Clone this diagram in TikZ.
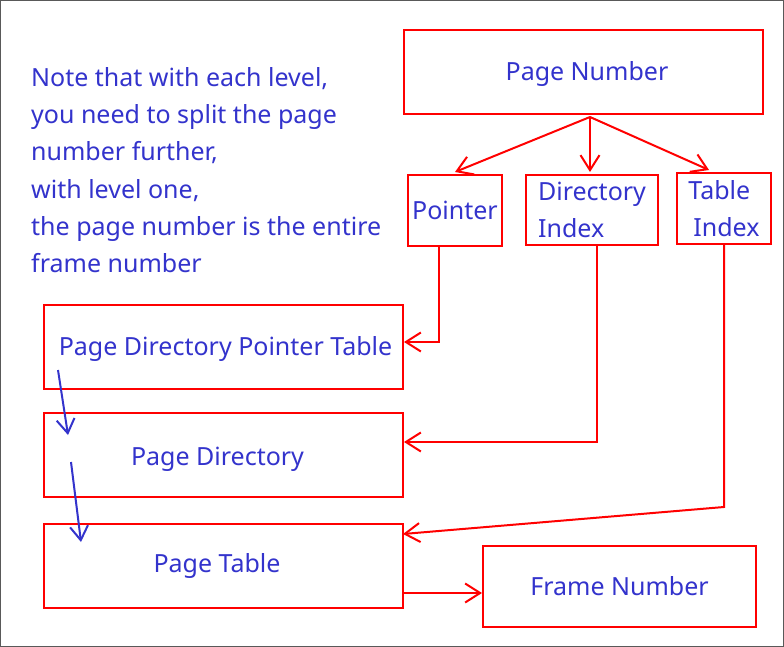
\documentclass[tikz,border=0pt]{standalone}
\usepackage{fontspec}
\setmainfont{Noto Sans}
\usetikzlibrary{arrows.meta,calc}
\definecolor{txtblue}{RGB}{51,51,204}
\definecolor{boxred}{RGB}{255,0,0}
\newcommand{\lowerby}[2]{\raisebox{-#1}[\height][\depth]{#2}}
\begin{document}
\begin{tikzpicture}[x=1pt,y=-1pt,
  box/.style={draw=boxred,line width=2pt,rectangle,inner sep=0pt,text=txtblue,
    font=\fontsize{25}{37}\selectfont},
  redarrow/.style={draw=boxred,line width=2pt,-{Straight Barb[length=15pt,width=19pt,line width=2pt]}},
  bluearrow/.style={draw=txtblue,line width=2pt,-{Straight Barb[length=14pt,width=18pt,line width=2pt]}},
  note/.style={text=txtblue,align=left,inner sep=0pt,font=\fontsize{25}{37.3}\selectfont}]
\useasboundingbox (0,0) rectangle (784,647);
\draw[draw=black!65,line width=1pt] (0.5,0.5) rectangle (783.5,646.5);

\node[note,anchor=north west] (note) at (31,67) {Note that with each level,\\you need to split the page\\number further,\\with level one,\\the page number is the entire\\frame number};

\node[box,minimum width=359pt,minimum height=84pt] (pn) at (583.5,72) {\hspace*{7pt}\lowerby{2pt}{Page Number}};
\node[box,minimum width=94pt,minimum height=71pt] (ptr) at (455,210.5) {Pointer};
\node[box,minimum width=132pt,minimum height=70pt,align=left] (dir) at (592,210) {Directory\\Index};
\node[box,minimum width=94pt,minimum height=71pt,align=left] (tbl) at (724,208.5) {Table\\\hspace*{5pt}Index};
\node[box,minimum width=359pt,minimum height=84pt] (pdpt) at (223.5,347) {\hspace*{4pt}\lowerby{2pt}{Page Directory Pointer Table}};
\node[box,minimum width=359pt,minimum height=84pt] (pd) at (223.5,455) {\hspace*{-12pt}\lowerby{4pt}{Page Directory}};
\node[box,minimum width=359pt,minimum height=84pt] (pt) at (223.5,566) {\hspace*{-13pt}Page Table};
\node[box,minimum width=273pt,minimum height=81pt] (fn) at (619.5,586.5) {Frame Number};

\coordinate (split) at (590,117);
\draw[redarrow] (split) -- ([yshift=2pt]ptr.north);
\draw[redarrow] (split) -- ([xshift=-2pt,yshift=2pt]dir.north);
\draw[redarrow] (split) -- ([xshift=-15pt,yshift=2pt]tbl.north);

\draw[redarrow] ([xshift=-16pt]ptr.south) |- ([yshift=5pt]pdpt.east);
\draw[redarrow] ([xshift=5pt]dir.south) |- ([yshift=13pt]pd.east);
\coordinate (tbend) at (724,507);
\draw[redarrow] (tbl.south) -- (tbend) -- ([xshift=-1pt,yshift=32pt]pt.east);
\draw[redarrow] ([yshift=-27pt]pt.east) -- ([yshift=-27pt]pt.east -| fn.west);

\coordinate (b1s) at (58,370);
\coordinate (b1e) at (68,435);
\coordinate (b2s) at (71,462);
\coordinate (b2e) at (81,542);
\draw[bluearrow] (b1s) -- (b1e);
\draw[bluearrow] (b2s) -- (b2e);
\end{tikzpicture}
\end{document}
